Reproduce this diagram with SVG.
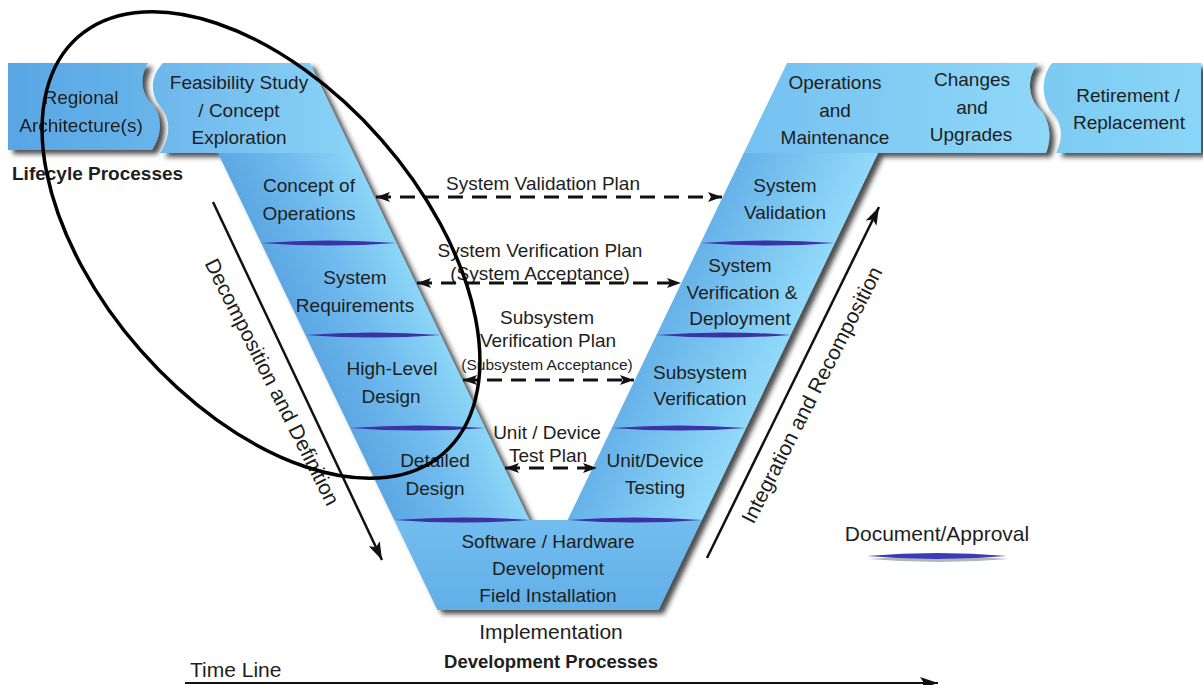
<svg xmlns="http://www.w3.org/2000/svg" width="1203" height="685" viewBox="0 0 1203 685">
<defs>
<style>
text{font-family:"Liberation Sans",Arial,sans-serif;fill:#1e1e1e;}
.t{font-size:19px;text-anchor:middle;}
.s{font-size:15.5px;text-anchor:middle;}
.b{font-weight:bold;font-size:19px;}
.big{font-size:21px;}
.armL{fill:url(#gL);}
.armR{fill:url(#gR);}
.doc{fill:#3b32a6;}
.dash{stroke:#111;stroke-width:3;stroke-dasharray:15 9;fill:none;marker-start:url(#ah);marker-end:url(#ah);}
.solid{stroke:#111;stroke-width:2.5;fill:none;marker-end:url(#ah2);}
</style>
<linearGradient id="gL" gradientUnits="userSpaceOnUse" x1="218" y1="153" x2="328" y2="100">
<stop offset="0" stop-color="#5ca7e3"/>
<stop offset="0.5" stop-color="#70bbee"/>
<stop offset="1" stop-color="#8cd6f7"/>
</linearGradient>
<linearGradient id="gR" gradientUnits="userSpaceOnUse" x1="744" y1="153" x2="854" y2="206">
<stop offset="0" stop-color="#66b2e9"/>
<stop offset="0.5" stop-color="#7cc6f1"/>
<stop offset="1" stop-color="#92dafa"/>
</linearGradient>
<linearGradient id="gBot" x1="0" y1="0" x2="0" y2="1">
<stop offset="0" stop-color="#72bdee"/>
<stop offset="1" stop-color="#62afe8"/>
</linearGradient>
<linearGradient id="gFeas" x1="0" y1="0" x2="1" y2="0">
<stop offset="0" stop-color="#6cb6ec"/>
<stop offset="1" stop-color="#8ad3f6"/>
</linearGradient>
<linearGradient id="gOps" x1="0" y1="0" x2="1" y2="0">
<stop offset="0" stop-color="#74c0f0"/>
<stop offset="1" stop-color="#8fd8f8"/>
</linearGradient>
<linearGradient id="gReg" x1="0" y1="0" x2="1" y2="0">
<stop offset="0" stop-color="#58a6e4"/>
<stop offset="1" stop-color="#68b4ea"/>
</linearGradient>
<linearGradient id="gRet" x1="0" y1="0" x2="1" y2="0">
<stop offset="0" stop-color="#7ccaf2"/>
<stop offset="1" stop-color="#8ad6f8"/>
</linearGradient>
<filter id="sh" x="-5%" y="-5%" width="115%" height="115%">
<feDropShadow dx="5" dy="4" stdDeviation="2.5" flood-color="#222" flood-opacity="0.8"/>
</filter>
<marker id="ah" viewBox="0 0 14 10" refX="14" refY="5" markerWidth="14" markerHeight="10" markerUnits="userSpaceOnUse" orient="auto-start-reverse">
<path d="M0,0 L14,5 L0,10 L3,5 Z" fill="#111"/>
</marker>
<marker id="ah2" viewBox="0 0 18 12" refX="18" refY="6" markerWidth="18" markerHeight="12" markerUnits="userSpaceOnUse" orient="auto">
<path d="M0,0 L18,6 L0,12 L4,6 Z" fill="#111"/>
</marker>
</defs>
<rect width="1203" height="685" fill="#fff"/>

<g filter="url(#sh)">
<g id="regional-architecture">
<path d="M8,63 L148,63 C140,76 140,92 152,104 C163,116 162,136 152,150 L8,150 Z" fill="url(#gReg)"/>
<text class="t" x="81" y="104">Regional</text>
<text class="t" x="81" y="132">Architecture(s)</text>
</g>
<g id="feasibility-study">
<path d="M163,63 L310,63 L353.2,153 L160,153 C170,138 172,120 160,106 C150,94 150,76 163,63 Z" fill="url(#gFeas)"/>
</g>
<g id="concept-of-operations">
<polygon points="218,153 353.2,153 396.4,243 261.2,243" class="armL"/>
</g>
<g id="system-requirements">
<polygon points="261.2,243 396.4,243 440.6,335 305.4,335" class="armL"/>
</g>
<g id="high-level-design">
<polygon points="305.4,335 440.6,335 485.2,428 350,428" class="armL"/>
</g>
<g id="detailed-design">
<polygon points="350,428 485.2,428 529.4,520 394.2,520" class="armL"/>
</g>
<g id="implementation">
<polygon points="394.2,520 701.8,520 658.6,610 437.4,610" fill="url(#gBot)"/>
</g>
<g id="unit-device-testing">
<polygon points="611.8,428 746,428 701.8,520 567.6,520" class="armR"/>
</g>
<g id="subsystem-verification">
<polygon points="656.4,335 790.6,335 746,428 611.8,428" class="armR"/>
</g>
<g id="system-verification-deployment">
<polygon points="700.6,243 834.8,243 790.6,335 656.4,335" class="armR"/>
</g>
<g id="system-validation">
<polygon points="743.8,153 878,153 834.8,243 700.6,243" class="armR"/>
</g>
<g id="operations-maintenance">
<path d="M787,63 L1038,63 C1026,78 1028,98 1040,110 C1050,120 1052,138 1046,153 L743.8,153 Z" fill="url(#gOps)"/>
</g>
<g id="retirement-replacement">
<path d="M1052,63 L1201,63 L1201,153 L1056,153 C1064,138 1062,122 1052,112 C1042,100 1040,78 1052,63 Z" fill="url(#gRet)"/>
</g>
</g>

<g id="document-lines">
<path class="doc" d="M261.2,243 Q328.8,238 396.4,243 Q328.8,248 261.2,243 Z"/>
<path class="doc" d="M305.4,335 Q373,330 440.6,335 Q373,340 305.4,335 Z"/>
<path class="doc" d="M350,428 Q417.6,423 485.2,428 Q417.6,433 350,428 Z"/>
<path class="doc" d="M394.2,520 Q461.8,515 529.4,520 Q461.8,525 394.2,520 Z"/>
<path class="doc" d="M700.6,243 Q767.7,238 834.8,243 Q767.7,248 700.6,243 Z"/>
<path class="doc" d="M656.4,335 Q723.5,330 790.6,335 Q723.5,340 656.4,335 Z"/>
<path class="doc" d="M611.8,428 Q678.9,423 746,428 Q678.9,433 611.8,428 Z"/>
<path class="doc" d="M567.6,520 Q634.7,515 701.8,520 Q634.7,525 567.6,520 Z"/>
</g>

<g id="labels">
<text class="t" x="239" y="89">Feasibility Study</text>
<text class="t" x="239" y="117">/ Concept</text>
<text class="t" x="239" y="144">Exploration</text>
<text class="t" x="309" y="192">Concept of</text>
<text class="t" x="309" y="220">Operations</text>
<text class="t" x="355" y="284">System</text>
<text class="t" x="355" y="312">Requirements</text>
<text class="t" x="392" y="375">High-Level</text>
<text class="t" x="391" y="403">Design</text>
<text class="t" x="435" y="467">Detailed</text>
<text class="t" x="435" y="495">Design</text>
<text class="t" x="548" y="548">Software / Hardware</text>
<text class="t" x="548" y="575">Development</text>
<text class="t" x="548" y="602">Field Installation</text>
<text class="t" x="655" y="467">Unit/Device</text>
<text class="t" x="655" y="494">Testing</text>
<text class="t" x="700" y="379">Subsystem</text>
<text class="t" x="700" y="405">Verification</text>
<text class="t" x="740" y="272">System</text>
<text class="t" x="742" y="299">Verification &amp;</text>
<text class="t" x="740" y="325">Deployment</text>
<text class="t" x="785" y="192">System</text>
<text class="t" x="785" y="219">Validation</text>
<text class="t" x="835" y="89">Operations</text>
<text class="t" x="835" y="117">and</text>
<text class="t" x="835" y="144">Maintenance</text>
<text class="t" x="972" y="86">Changes</text>
<text class="t" x="972" y="114">and</text>
<text class="t" x="971" y="141">Upgrades</text>
<text class="t" x="1128" y="102">Retirement /</text>
<text class="t" x="1129" y="129">Replacement</text>
<text class="b" x="12" y="180">Lifecyle Processes</text>
<text class="big" x="551" y="639" text-anchor="middle">Implementation</text>
<text class="b" x="551" y="668" text-anchor="middle" style="font-size:18.5px">Development Processes</text>
<text class="big" x="190" y="677">Time Line</text>
<text class="big" x="937" y="541" text-anchor="middle">Document/Approval</text>
<text class="big" text-anchor="middle" transform="translate(272,382) rotate(63.2)" y="7">Decomposition and Definition</text>
<text class="big" text-anchor="middle" transform="translate(812,395) rotate(-63)" y="7">Integration and Recomposition</text>
</g>

<g id="plan-labels">
<text class="t" x="543" y="190">System Validation Plan</text>
<text class="t" x="540" y="257">System Verification Plan</text>
<text class="t" x="540" y="280">(System Acceptance)</text>
<text class="t" x="547" y="324">Subsystem</text>
<text class="t" x="548" y="347">Verification Plan</text>
<text class="s" x="547" y="370">(Subsystem Acceptance)</text>
<text class="t" x="547" y="439">Unit / Device</text>
<text class="t" x="548" y="462">Test Plan</text>
</g>

<g id="connectors">
<line class="dash" x1="376" y1="197" x2="722" y2="197"/>
<line class="dash" x1="417" y1="283" x2="681" y2="283"/>
<line class="dash" x1="463" y1="380" x2="634" y2="380"/>
<line class="dash" x1="505" y1="468" x2="597" y2="468"/>
<line class="solid" x1="213" y1="202" x2="382" y2="560"/>
<line class="solid" x1="707" y1="558" x2="879" y2="207"/>
<line class="solid" x1="185" y1="683" x2="938" y2="683" style="stroke-width:2"/>
</g>

<g id="legend">
<path d="M869,559 Q938,553 1009,559 Q938,565 869,559 Z" fill="#8a9a9a" opacity="0.7"/>
<path d="M867,556 Q937,550 1007,556 Q937,562 867,556 Z" fill="#3d3ab8"/>
</g>

<g id="highlight">
<ellipse cx="261" cy="245" rx="277" ry="160" transform="rotate(48.65 261 245)" fill="none" stroke="#000" stroke-width="3.5"/>
</g>
</svg>
